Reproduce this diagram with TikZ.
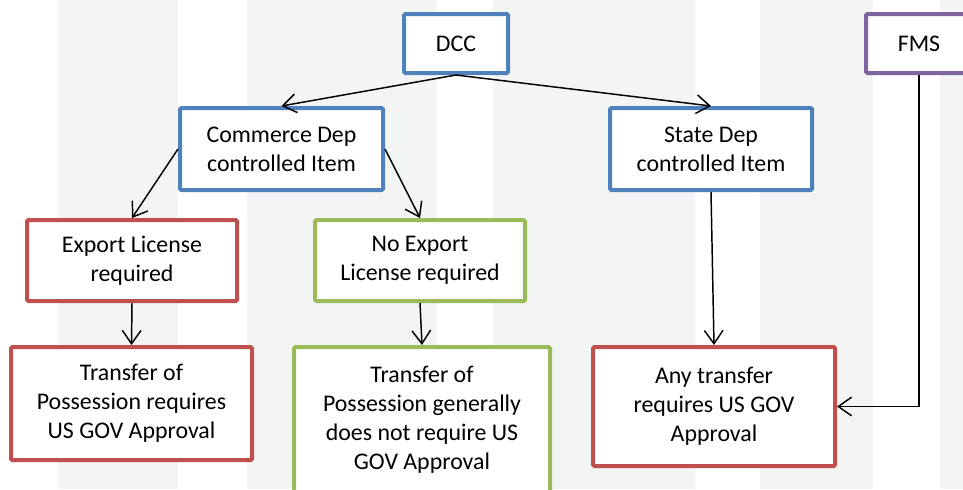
\documentclass[tikz,border=0pt]{standalone}
\usepackage{fontspec}
\setmainfont{Carlito}
\usetikzlibrary{arrows.meta}

\definecolor{stripe}{RGB}{243,244,244}
\definecolor{boxblue}{RGB}{79,129,189}
\definecolor{boxred}{RGB}{192,80,77}
\definecolor{boxgreen}{RGB}{155,187,89}
\definecolor{boxpurple}{RGB}{128,100,162}

\tikzset{every picture/.style={line width=0.75pt}}
\tikzset{
  flowbox/.style={draw, line width=3pt, rounded corners=1pt, fill=white, align=center, inner sep=0pt,
    font=\fontsize{17.9}{21.75}\selectfont},
  flowarrow/.style={line width=1.1pt, -{Straight Barb[length=10pt,width=14pt,line width=1.1pt]}}
}

\begin{document}
\begin{tikzpicture}[x=0.75pt,y=0.75pt,yscale=-1,xscale=1]
	\useasboundingbox (0,0) rectangle (963,489);

	%Shape: Rectangle (background stripes)
	\fill [stripe] (58,0) rectangle (178,489);
	\fill [stripe] (247,0) rectangle (437,489);
	\fill [stripe] (493,0) rectangle (695,489);
	\fill [stripe] (760,0) rectangle (873,489);
	\fill [stripe] (940,0) rectangle (963,489);

	% Text Node
	\node [flowbox, draw=boxblue, minimum width=78pt, minimum height=44.25pt] (dcc) at (456,43.5) {DCC};
	% Text Node
	\node [flowbox, draw=boxpurple, minimum width=79.5pt, minimum height=44.25pt] (fms) at (919,43.5) {FMS};
	% Text Node
	\node [flowbox, draw=boxblue, minimum width=152.25pt, minimum height=61.5pt] (commerce) at (281.5,149) {Commerce Dep\\controlled Item};
	% Text Node
	\node [flowbox, draw=boxblue, minimum width=151.5pt, minimum height=61.5pt] (state) at (711,149) {State Dep\\controlled Item};
	% Text Node
	\node [flowbox, draw=boxred, minimum width=157.5pt, minimum height=60.75pt] (license) at (132,260.5) {Export License\\required};
	% Text Node
	\node [flowbox, draw=boxgreen, minimum width=157.5pt, minimum height=60.75pt] (nolicense) at (420,260.5) {No Export\\License required};
	% Text Node
	\node [flowbox, draw=boxred, minimum width=180.75pt, minimum height=84.75pt] (possession) at (131.5,403.5) {Transfer of\\Possession requires\\US GOV Approval};
	% Text Node
	\node [flowbox, draw=boxgreen, minimum width=192pt, minimum height=109.5pt] (generally) at (422,420) {Transfer of\\Possession generally\\does not require US\\GOV Approval};
	% Text Node
	\node [flowbox, draw=boxred, minimum width=181.5pt, minimum height=89.25pt] (anytransfer) at (714,406.5) {Any transfer\\requires US GOV\\Approval};

	%Straight Lines
	\draw [flowarrow] (dcc.south) -- (commerce.north);
	\draw [flowarrow] (dcc.south) -- (state.north);
	\draw [flowarrow] (commerce.west) -- (license.north);
	\draw [flowarrow] (commerce.east) -- (nolicense.north);
	\draw [flowarrow] (license.south) -- (possession.north);
	\draw [flowarrow] (nolicense.south) -- (generally.north);
	\draw [flowarrow] (state.south) -- (anytransfer.north);
	\draw [flowarrow] (fms.south) |- (anytransfer.east);

\end{tikzpicture}
\end{document}
